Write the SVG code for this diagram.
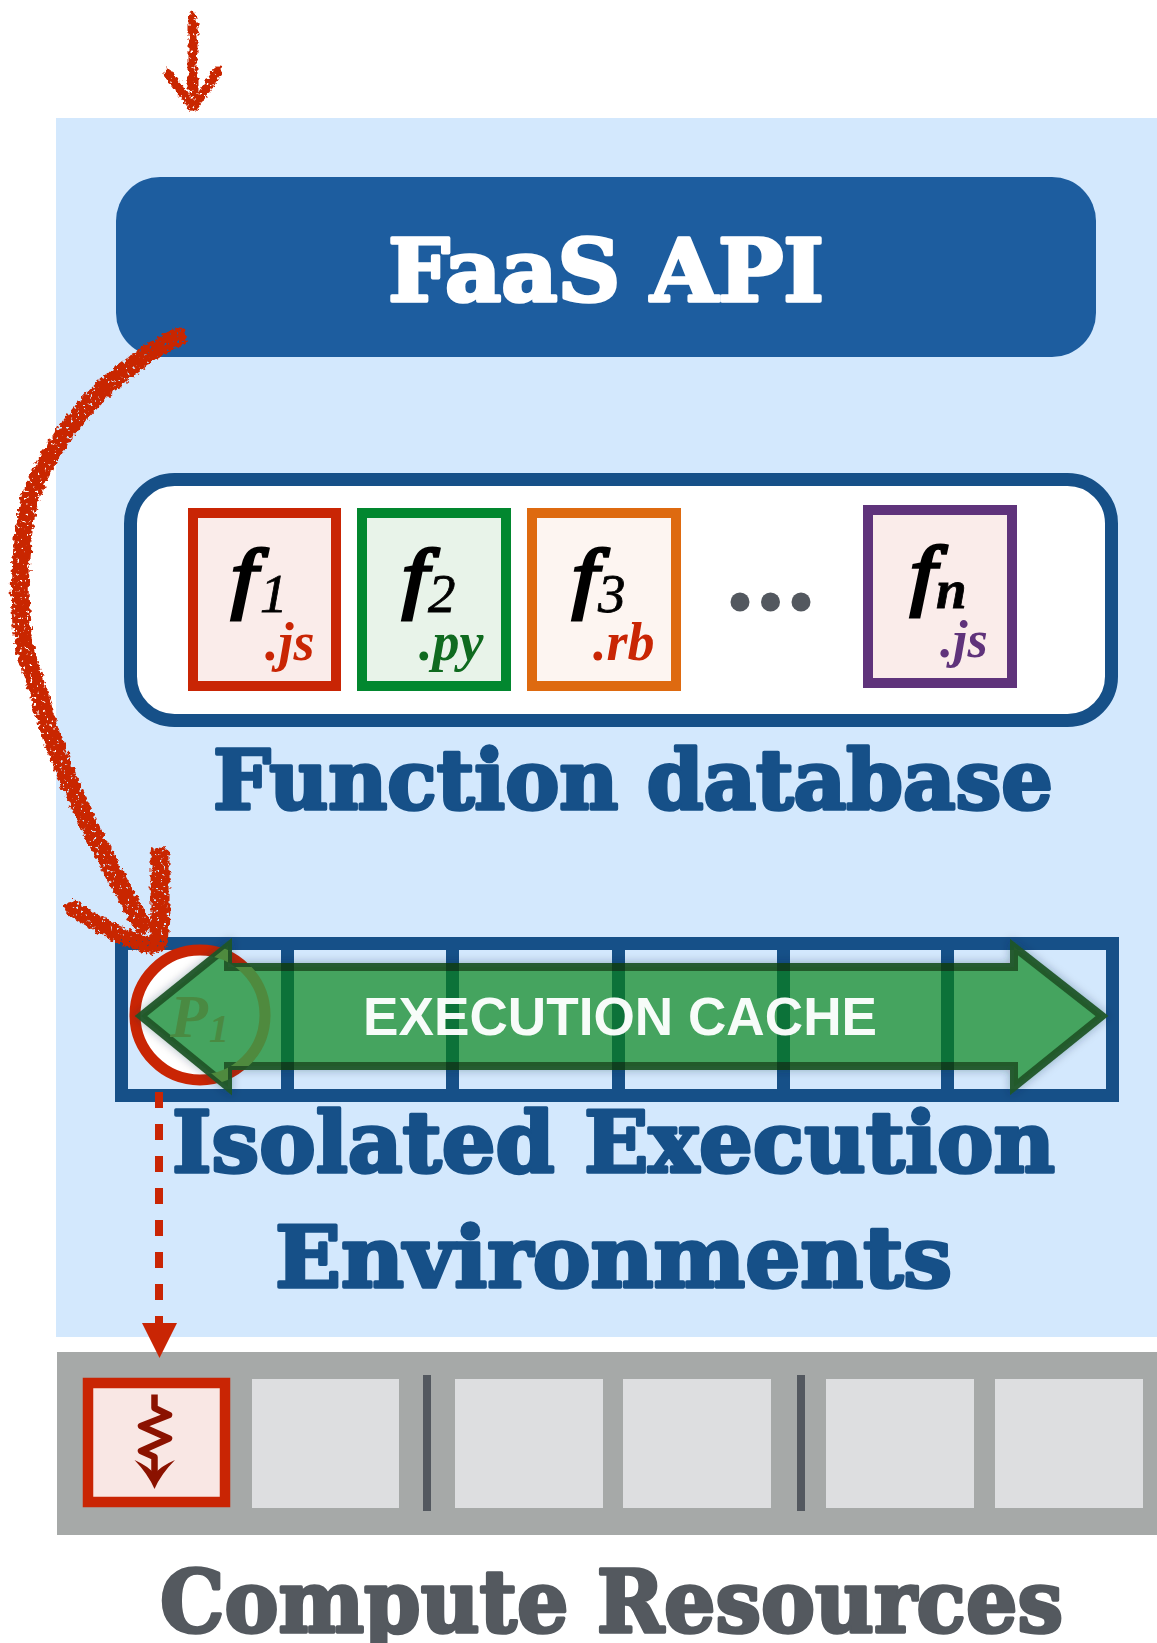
<svg xmlns="http://www.w3.org/2000/svg" width="1157" height="1643" viewBox="0 0 1157 1643">
<style>
.t{font-family:"DejaVu Serif",serif;font-weight:700;fill:#165088;stroke:#165088;stroke-width:3.500px;stroke-linejoin:round;paint-order:stroke}
.ff{font-family:"Liberation Serif",serif;font-style:italic}
.f{font-size:78px;fill:#000;stroke:#000;stroke-width:3.200px}
.sub{font-size:55px;fill:#000;stroke:#000;stroke-width:.8px}
.ext{font-size:54px;font-weight:700}
.cell{fill:#dddee0}
.sep{fill:#53585f}
.sk{fill:none;stroke:#c92504;stroke-linecap:round;stroke-linejoin:round}
</style>
<defs>
<filter id="rough" x="-20%" y="-20%" width="140%" height="140%">
<feTurbulence type="fractalNoise" baseFrequency="0.22" numOctaves="2" seed="4" result="n"/>
<feDisplacementMap in="SourceGraphic" in2="n" scale="8" xChannelSelector="R" yChannelSelector="G" result="d"/>
<feTurbulence type="fractalNoise" baseFrequency="0.3" numOctaves="2" seed="9"/>
<feColorMatrix type="matrix" values="0 0 0 0 0 0 0 0 0 0 0 0 0 0 0 0 0 0 -10 7.600" result="holes"/>
<feComposite in="d" in2="holes" operator="in"/>
</filter>
<filter id="shadow" x="-5%" y="-20%" width="110%" height="140%">
<feDropShadow dx="0" dy="0" stdDeviation="5" flood-color="#1a2a3a" flood-opacity=".35"/>
</filter>
<clipPath id="arrow-clip"><path d="M1102 1016L1014 947V967H228V946L141 1016L228 1087V1066H1014V1087Z"/></clipPath>
</defs>
<rect width="1157" height="1643" fill="#fff"/>
<rect id="platform" x="56" y="118" width="1101" height="1219" fill="#d3e8fd"/>
<g id="faas-api">
<rect x="116" y="177" width="980" height="180" rx="44" fill="#1d5d9f"/>
<text class="t" x="388" y="301" font-size="86" textLength="436" lengthAdjust="spacingAndGlyphs" style="fill:#fff;stroke:#fff">FaaS API</text>
</g>
<g id="function-database">
<rect x="130.500" y="479.500" width="981" height="241" rx="44" fill="#fff" stroke="#165088" stroke-width="13"/>
<text class="t" x="213" y="809" font-size="82" textLength="840" lengthAdjust="spacingAndGlyphs">Function database</text>
</g>
<g id="f1">
<rect x="193" y="513" width="143" height="173" fill="#faecea" stroke="#c92504" stroke-width="10"/>
<text class="ff f" x="231" y="603" textLength="26" lengthAdjust="spacingAndGlyphs">f</text><text class="ff sub" x="260" y="612">1</text>
<text class="ff ext" x="265" y="660" fill="#c92504">.js</text>
</g>
<g id="f2">
<rect x="362" y="513" width="144" height="173" fill="#e8f3e9" stroke="#02872f" stroke-width="10"/>
<text class="ff f" x="402" y="603" textLength="26" lengthAdjust="spacingAndGlyphs">f</text><text class="ff sub" x="428" y="612">2</text>
<text class="ff ext" x="419" y="660" fill="#0f6a1f">.py</text>
</g>
<g id="f3">
<rect x="532" y="513" width="144" height="173" fill="#fdf5f1" stroke="#de6a10" stroke-width="10"/>
<text class="ff f" x="572" y="603" textLength="26" lengthAdjust="spacingAndGlyphs">f</text><text class="ff sub" x="598" y="612">3</text>
<text class="ff ext" x="593" y="660" fill="#c92504">.rb</text>
</g>
<g id="ellipsis" fill="#53585f">
<circle cx="740" cy="602" r="9.500"/><circle cx="770.500" cy="602" r="9.500"/><circle cx="801" cy="602" r="9.500"/>
</g>
<g id="fn">
<rect x="868" y="510" width="144" height="173" fill="#faecea" stroke="#5f337b" stroke-width="10"/>
<text class="ff f" x="910" y="600" textLength="26" lengthAdjust="spacingAndGlyphs">f</text><text class="ff sub" x="936" y="608" font-weight="700">n</text>
<text class="ff ext" x="940" y="657" style="font-size:52px" fill="#5f337b">.js</text>
</g>
<g id="execution-environments">
<rect x="121.500" y="943.500" width="991" height="152" fill="none" stroke="#165088" stroke-width="13"/>
<g fill="#165088"><rect x="281" y="943" width="13" height="152"/><rect x="446" y="943" width="13" height="152"/><rect x="612" y="943" width="13" height="152"/><rect x="777" y="943" width="13" height="152"/><rect x="941" y="943" width="13" height="152"/></g>
<text class="t" x="172" y="1172" font-size="84" textLength="883" lengthAdjust="spacingAndGlyphs">Isolated Execution</text>
<text class="t" x="275" y="1287" font-size="84" textLength="677" lengthAdjust="spacingAndGlyphs">Environments</text>
</g>
<g id="process-p1">
<circle cx="200" cy="1015" r="65" fill="#fff" stroke="#c92504" stroke-width="11"/>
</g>
<g id="execution-cache">
<path d="M1102 1016L1014 947V967H228V946L141 1016L228 1087V1066H1014V1087Z" fill="#45a45e" stroke="#1f5528" stroke-opacity=".94" stroke-width="8" stroke-miterlimit="8" filter="url(#shadow)"/>
<g clip-path="url(#arrow-clip)">
<circle cx="200" cy="1015" r="65" fill="none" stroke="#4f8a3e" stroke-width="11"/>
<g fill="#0c7239"><rect x="281" y="971" width="13" height="91"/><rect x="446" y="971" width="13" height="91"/><rect x="612" y="971" width="13" height="91"/><rect x="777" y="971" width="13" height="91"/><rect x="941" y="971" width="13" height="91"/></g>
</g>
<g fill="#0f3f1f"><rect x="281" y="963" width="13" height="8"/><rect x="446" y="963" width="13" height="8"/><rect x="612" y="963" width="13" height="8"/><rect x="777" y="963" width="13" height="8"/><rect x="941" y="963" width="13" height="8"/><rect x="281" y="1062" width="13" height="8"/><rect x="446" y="1062" width="13" height="8"/><rect x="612" y="1062" width="13" height="8"/><rect x="777" y="1062" width="13" height="8"/><rect x="941" y="1062" width="13" height="8"/></g>
<text class="ff" x="170" y="1037" font-size="62" font-weight="700" fill="#4a8a42">P</text>
<text class="ff" x="209" y="1042" font-size="40" font-weight="700" fill="#4a8a42">1</text>
<text x="363" y="1035" font-family="'Liberation Sans',sans-serif" font-weight="700" font-size="53" textLength="514" lengthAdjust="spacingAndGlyphs" fill="#fff" fill-opacity=".96">EXECUTION CACHE</text>
</g>
<g id="compute-resources">
<rect x="57" y="1352" width="1100" height="183" fill="#a6a9a8"/>
<rect x="88" y="1383" width="137" height="119" fill="#f9e7e4" stroke="#c92504" stroke-width="10.500"/>
<rect class="cell" x="252" y="1379" width="147" height="129"/>
<rect class="sep" x="423" y="1375" width="8" height="136"/>
<rect class="cell" x="455" y="1379" width="148" height="129"/>
<rect class="cell" x="623" y="1379" width="148" height="129"/>
<rect class="sep" x="797" y="1375" width="8" height="136"/>
<rect class="cell" x="826" y="1379" width="148" height="129"/>
<rect class="cell" x="995" y="1379" width="148" height="129"/>
<g id="running-icon">
<path d="M154.500 1394.500V1408L169 1415L141 1426L169 1438.500L141 1451L154.500 1457V1480" fill="none" stroke="#8b1200" stroke-width="6.500" stroke-linejoin="round"/>
<path d="M134.500 1460Q148 1466 154.500 1474Q161 1466 175 1460Q161 1474 154.500 1489Q148 1474 134.500 1460Z" fill="#8b1200"/>
</g>
<text class="t" x="160" y="1632" font-size="86" textLength="903" lengthAdjust="spacingAndGlyphs" style="fill:#54595f;stroke:#54595f">Compute Resources</text>
</g>
<g id="connectors">
<g filter="url(#rough)">
<path class="sk" stroke-width="9" d="M193 17V92M168 73L193 108L218 71"/>
<path class="sk" stroke-width="18" d="M178 337C150 350 125 370 100 392C80 412 72 423 60 440C48 458 40 473 33 490C24 515 22 535 22 553C20 575 19 590 20 603C21 615 21 625 23 637C27 660 33 677 40 697C46 722 54 745 63 767C72 790 82 810 93 833C105 858 118 880 142 925"/>
<path class="sk" stroke-width="16" d="M72 908C100 925 125 940 152 946"/>
<path class="sk" stroke-width="19" d="M160 856C160 890 161 920 158 943"/>
</g>
<path d="M159 1092V1325" fill="none" stroke="#c92504" stroke-width="8" stroke-dasharray="16 16"/>
<path d="M142 1323H177L159.500 1358Z" fill="#c92504"/>
</g>
</svg>
